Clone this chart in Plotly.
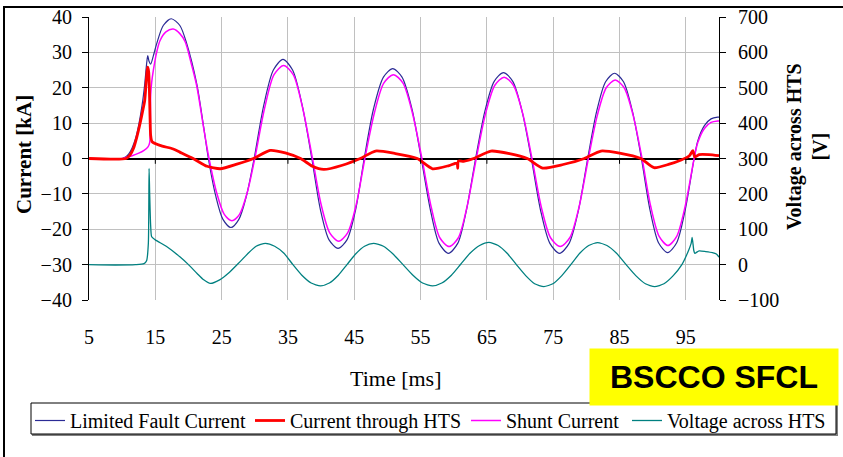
import plotly.graph_objects as go

# ---------------- data ----------------
t_fault = [5, 10, 10.5, 11, 11.5, 12, 12.5, 13, 13.4, 13.7, 13.86, 14.05, 14.3, 14.7, 15.2, 16.2, 17.4,
           18.7, 19.75, 21.25, 22.3, 23.0,
           24.1, 25.2, 26.4, 27.6, 28.75, 29.9,
           31.35, 32.8, 34.25, 35.7, 37.15, 38.6,
           39.9, 41.2, 42.55, 43.9, 45.2, 46.5,
           47.9, 49.4, 50.8, 52.2, 53.7, 55.1,
           56.5, 57.8, 59.2, 60.6, 61.9, 63.3,
           64.7, 66.1, 67.5, 68.9, 70.3, 71.7,
           73.1, 74.5, 75.95, 77.4, 78.8, 80.2,
           81.55, 82.9, 84.25, 85.6, 86.95, 88.3,
           89.6, 90.9, 92.25, 93.6, 94.9, 96.25,
           96.8, 97.8, 98.8, 99.8, 100]
i_fault = [0, 0, 0.4, 1.3, 3, 5.5, 9.5, 15, 21, 27, 29.1, 27.5, 26.7, 29, 32.4, 37.6, 39.5,
           37.6, 32.4, 21.1, 8.8, 0,
           -10.5, -17.2, -19.5, -17.2, -10.5, 0,
           15, 25, 28, 25, 15, 0,
           -14.5, -23, -25.4, -23, -14.5, 0,
           14, 23, 25.4, 23, 14, 0,
           -14.7, -24, -26.8, -24, -14.7, 0,
           13.4, 21.8, 24.3, 21.8, 13.4, 0,
           -14.7, -24, -26.8, -24, -14.7, 0,
           13.3, 21.7, 24.1, 21.7, 13.3, 0,
           -14.6, -23.9, -26.6, -23.9, -14.6, 0,
           5, 9.3, 11.2, 11.7, 11.7]

t_shunt = [5, 10, 10.5, 11.5, 12.5, 13.3, 13.9, 14.15, 14.3, 14.45, 14.7, 15.2, 15.7, 16.6, 17.7,
           18.7, 19.5, 20.4, 21.25, 22.3, 23.1,
           24.25, 25.4, 26.55, 27.7, 28.85, 30.0,
           31.45, 32.9, 34.35, 35.8, 37.25, 38.7,
           40.0, 41.3, 42.65, 44.0, 45.3, 46.6,
           48.05, 49.45, 50.9, 52.35, 53.75, 55.2,
           56.6, 57.9, 59.3, 60.7, 62.0, 63.4,
           64.8, 66.2, 67.6, 69.0, 70.4, 71.8,
           73.2, 74.6, 76.05, 77.5, 78.9, 80.3,
           81.65, 83.0, 84.35, 85.7, 87.05, 88.4,
           89.7, 91.0, 92.3, 93.6, 94.9, 96.25,
           96.8, 97.8, 98.8, 99.8, 100]
i_shunt = [0, 0, 0.3, 0.8, 1.5, 2.3, 3.3, 4.5, 18, 21.5, 24.9, 30, 33.3, 35.8, 36.6,
           35.3, 33, 27, 20.5, 8.5, 0,
           -9.7, -15.8, -17.6, -15.8, -9.7, 0,
           14, 23.7, 26.3, 23.7, 14, 0,
           -13, -21, -23.4, -21, -13, 0,
           13, 21.3, 23.7, 21.3, 13, 0,
           -13.7, -22.4, -24.9, -22.4, -13.7, 0,
           12.7, 20.7, 23, 20.7, 12.7, 0,
           -13.7, -22.4, -24.9, -22.4, -13.7, 0,
           12.2, 20, 22.2, 20, 12.2, 0,
           -13.5, -22.1, -24.6, -22.1, -13.5, 0,
           4.5, 8.5, 10.2, 10.6, 10.6]

t_hts = [5, 10.6, 11.2, 11.7, 12.2, 12.7, 13.1, 13.4, 13.6, 13.75, 13.85, 14.0, 14.1, 14.2, 14.3, 14.5,
         15.7, 17.7, 18.7, 20.7, 22.8, 24.8, 27.3, 29.8, 32.3, 34.6, 36.9, 38.7, 40.4, 43.2, 45.9,
         48.2, 51.2, 54.5, 56.8, 59.3, 60.5, 60.6, 60.7, 61.5, 63.0, 65.6, 68.4, 71.1, 73.4, 76.5,
         79.7, 82.2, 85.0, 88.2, 90.2, 92.5, 94.3, 95.5, 96.05, 96.35, 97.0, 98.5, 100]
i_hts = [0, 0, 1, 2.8, 6, 9.9, 13.5, 16.4, 21, 24.5, 25.8, 24.5, 20, 12, 6.5, 4.8,
         3.7, 2.7, 1.8, 0, -2.2, -2.9, -1.6, 0, 2.3, 1.6, 0, -2.2, -3.1, -1.9, 0,
         2.1, 1.4, 0, -2.9, -2.0, -1.3, -2.8, -0.7, -0.8, 0, 2.1, 1.4, 0, -2.7, -1.7,
         0, 2.1, 1.5, 0, -2.6, -1.6, -0.4, 0.7, 2.2, 0.4, 1.1, 1.1, 0.8]

t_volt = [5, 9, 12, 13.3, 13.7, 13.95, 14.06, 14.15, 14.3, 14.45, 15, 16.7, 18.7, 20, 21.3, 22.3, 23.3,
          24.7, 26.1, 27.5, 28.9, 30.2, 31.6,
          33.0, 34.4, 35.75, 37.1, 38.5, 39.9,
          41.25, 42.6, 43.9, 45.2, 46.55, 47.9,
          49.4, 50.85, 52.35, 53.85, 55.3, 56.8,
          58.2, 59.65, 61.05, 62.45, 63.9, 65.3,
          66.7, 68.05, 69.45, 70.85, 72.2, 73.6,
          74.95, 76.3, 77.65, 79.0, 80.35, 81.7,
          83.1, 84.55, 86.0, 87.45, 88.9, 90.3,
          91.7, 93.1, 94.4, 95.3, 95.8, 95.95, 96.2, 96.35, 97.0, 98.0, 99.0, 99.6, 100]
v_volt = [0, -1, 0, 3, 12, 60, 272, 200, 110, 79, 70, 51, 22, 0, -25, -43, -53,
          -43, -23, 3, 30, 52, 60,
          52, 32, 0, -30, -52, -60,
          -52, -30, 0, 30, 52, 60,
          52, 30, 0, -30, -52, -60,
          -52, -30, 1, 32, 54, 63,
          54, 32, 0, -31, -54, -62,
          -54, -31, 0, 32, 54, 62,
          54, 32, 0, -31, -54, -62,
          -54, -31, 0, 35, 60, 77, 40, 32, 39, 37, 34, 30, 21]

x_ticks = [5, 15, 25, 35, 45, 55, 65, 75, 85, 95]
y_ticks = [-40, -30, -20, -10, 0, 10, 20, 30, 40]
y2_ticks = [-100, 0, 100, 200, 300, 400, 500, 600, 700]

# ---------------- figure ----------------
SERIF = "Liberation Serif, Times New Roman, serif"
L, R, T, B = 89, 719, 17, 300
PW, PH = R - L, B - T


def px(xp):
    return (xp - L) / PW


def py(yp):
    return (B - yp) / PH


fig = go.Figure()
fig.add_trace(go.Scatter(x=t_fault, y=i_fault, name="Limited Fault Current", mode="lines",
                         line=dict(color="#2b2b95", width=1.2, shape="spline", smoothing=0.8),
                         legend="legend"))
fig.add_trace(go.Scatter(x=t_shunt, y=i_shunt, name="Shunt Current", mode="lines",
                         line=dict(color="#ff00ff", width=1.5, shape="spline", smoothing=0.8),
                         legend="legend3"))
fig.add_trace(go.Scatter(x=t_hts, y=i_hts, name="Current through HTS", mode="lines",
                         line=dict(color="#ff0000", width=2.8, shape="spline", smoothing=0.6),
                         legend="legend2"))
fig.add_trace(go.Scatter(x=t_volt, y=v_volt, name="Voltage across HTS", mode="lines", yaxis="y2",
                         line=dict(color="#008080", width=1.3, shape="spline", smoothing=0.6),
                         legend="legend4"))

# small tick marks on the x axis line (which crosses at 0)
for xv in x_ticks[1:]:
    fig.add_shape(type="line", xref="x", yref="y", x0=xv, x1=xv, y0=0, y1=-1.5,
                  line=dict(color="black", width=1))

# outer chart border
fig.add_shape(type="rect", xref="paper", yref="paper", x0=px(4), x1=px(860), y0=py(470), y1=py(7),
              line=dict(color="black", width=2), layer="below")
# legend frame (shadow + box)
fig.add_shape(type="rect", xref="paper", yref="paper", x0=px(32), x1=px(838), y0=py(436), y1=py(404),
              line=dict(color="#808080", width=0), fillcolor="#808080", layer="below")
fig.add_shape(type="rect", xref="paper", yref="paper", x0=px(31), x1=px(836), y0=py(434), y1=py(403),
              line=dict(color="black", width=1), fillcolor="white", layer="below")


def leg(xpix):
    return dict(orientation="h", x=px(xpix), y=py(401), xanchor="left", yanchor="top",
                borderwidth=0, bgcolor="rgba(0,0,0,0)",
                font=dict(family=SERIF, size=20, color="black"), itemwidth=30)


fig.update_layout(
    width=843, height=457,
    margin=dict(l=L, r=843 - R, t=T, b=457 - B, autoexpand=False),
    paper_bgcolor="white", plot_bgcolor="white",
    font=dict(family=SERIF, size=20, color="black"),
    showlegend=True,
    legend=leg(30), legend2=leg(250), legend3=leg(466), legend4=leg(627),
    xaxis=dict(range=[5, 100], tickvals=x_ticks, ticktext=[str(v) for v in x_ticks],
               showgrid=True, gridcolor="#c0c0c0", gridwidth=1, showline=False, zeroline=False,
               ticks="", ticklabelstandoff=23, tickfont=dict(size=20)),
    yaxis=dict(range=[-40, 40], tickvals=y_ticks, showgrid=True, gridcolor="#c0c0c0", gridwidth=1,
               showline=True, linecolor="black", linewidth=1.2, ticks="outside", ticklen=6,
               tickcolor="black", zeroline=True, zerolinecolor="black", zerolinewidth=1.5,
               ticklabelstandoff=6, tickfont=dict(size=20)),
    yaxis2=dict(range=[-100, 700], tickvals=y2_ticks, overlaying="y", side="right",
                showgrid=False, showline=True, linecolor="black", linewidth=1.2,
                ticks="outside", ticklen=6, tickcolor="black", zeroline=False,
                ticklabelstandoff=8, tickfont=dict(size=20)),
)

fig.add_annotation(text="<b>Current [kA]</b>", xref="paper", yref="paper", x=px(24), y=py(155),
                   textangle=-90, showarrow=False, xanchor="center", yanchor="middle",
                   font=dict(family=SERIF, size=21, color="black"))
fig.add_annotation(text="<b>Voltage across HTS</b><br><b>[V]</b>", xref="paper", yref="paper",
                   x=px(807), y=py(147), textangle=-90, showarrow=False, xanchor="center",
                   yanchor="middle", font=dict(family=SERIF, size=20, color="black"))
fig.add_annotation(text="Time [ms]", xref="paper", yref="paper", x=px(395), y=py(378),
                   showarrow=False, xanchor="center", yanchor="middle",
                   font=dict(family=SERIF, size=22, color="black"))
fig.add_annotation(text="<b>BSCCO SFCL</b>", xref="paper", yref="paper", x=px(714), y=py(377),
                   showarrow=False, xanchor="center", yanchor="middle", width=248, height=56,
                   bgcolor="#ffff00", borderpad=0, align="center",
                   font=dict(family="Arial, Liberation Sans, sans-serif", size=32, color="black"))

fig.write_html("out.html")
